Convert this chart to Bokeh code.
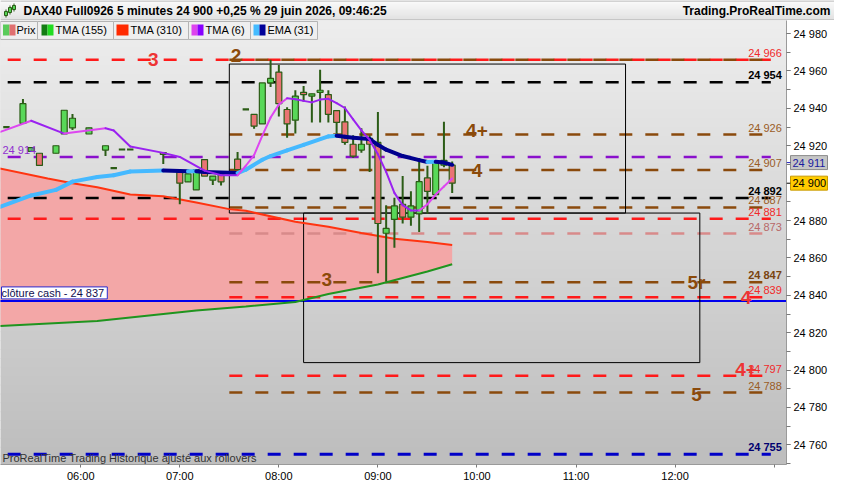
import numpy as np
import pandas as pd
from bokeh.plotting import figure
from bokeh.layouts import column, row
from bokeh.models import (Range1d, FixedTicker, SingleIntervalTicker, CustomJSTickFormatter,
                          DatetimeTickFormatter, Label, ColumnDataSource)
from bokeh.embed import file_html
from bokeh.resources import INLINE
from bokeh.core.properties import value

DAY = "2026-06-29 "
FONT = "Liberation Sans"

# ------------------------------------------------------------------ data
title_text = "DAX40 Full0926 5 minutes 24 900 +0,25 % 29 juin 2026, 09:46:25"
site_text = "Trading.ProRealTime.com"
footer_text = "ProRealTime Trading  Historique ajusté aux rollovers"
legend_names = ["Prix", "TMA (155)", "TMA (310)", "TMA (6)", "EMA (31)"]
hour_ticks = ["06:00", "07:00", "08:00", "09:00", "10:00", "11:00", "12:00", "13:00"]
hour_labels = ["06:00", "07:00", "08:00", "09:00", "10:00", "11:00", "12:00", ""]

candle_time = ["05:15", "05:25", "05:30", "05:35", "05:45", "05:50", "05:55", "06:05", "06:15", "06:20",
               "06:25", "06:30", "06:50", "07:00", "07:05", "07:10", "07:15", "07:20", "07:25", "07:35",
               "07:40", "07:45", "07:50", "07:55", "08:00", "08:05", "08:10", "08:15", "08:20", "08:25",
               "08:30", "08:35", "08:40", "08:45", "08:50", "08:55", "09:00", "09:05", "09:10", "09:15",
               "09:20", "09:25", "09:30", "09:35", "09:40", "09:45"]
candle_open = [24930, 24932, 24917, 24916, 24916, 24926.3, 24929.6, 24926.3, 24917.7, 24908,
               24918, 24918, 24916.4, 24906, 24900.7, 24896.4, 24912.6, 24901.6, 24904.5, 24912.8,
               24939.5, 24936.8, 24931.7, 24953.6, 24959.4, 24939.4, 24933.7, 24948.6, 24946.6, 24948.6,
               24947.4, 24938.8, 24932.8, 24920.8, 24917.7, 24923.9, 24921.8, 24873.2, 24880.6, 24888.7,
               24881.8, 24883.6, 24902.8, 24893.9, 24909.6, 24909.6]
candle_high = [24930, 24945, 24919, 24916, 24920, 24939, 24937, 24929.6, 24920, 24908,
               24918, 24918, 24916.4, 24906, 24905, 24907.3, 24912.6, 24903.8, 24904.5, 24916.7,
               24939.5, 24936.8, 24953.6, 24966, 24963.2, 24940.6, 24949.7, 24951.9, 24947.8, 24960.6,
               24949.7, 24938.8, 24941, 24925.6, 24929.4, 24925.6, 24938, 24888.2, 24892.2, 24903.8,
               24895.6, 24911.6, 24909.3, 24911.9, 24932.9, 24911.6]
candle_low = [24930, 24932, 24917, 24909.5, 24916, 24926.3, 24928.4, 24926.3, 24914.5, 24908,
              24918, 24918, 24910.2, 24888.7, 24900.7, 24896.4, 24903.8, 24899, 24898.7, 24907.3,
              24939.5, 24929.1, 24931.7, 24951.4, 24935.6, 24924.3, 24926.5, 24943.6, 24932.5, 24932.5,
              24932.5, 24926, 24920.5, 24913.6, 24916.2, 24905.9, 24851.8, 24847.5, 24865.5, 24878.4,
              24877.2, 24873.8, 24883.6, 24893.9, 24908.5, 24894.7]
candle_close = [24930, 24942.5, 24919, 24909.5, 24920, 24939, 24934.7, 24929.6, 24920, 24908,
                24918, 24918, 24915.4, 24900, 24905, 24907.3, 24903.8, 24903.8, 24900.7, 24907.3,
                24939.5, 24930.5, 24953.6, 24956, 24942.5, 24931.7, 24946.6, 24947.4, 24947.8, 24949.7,
                24936.8, 24932.5, 24921.8, 24914.4, 24920.8, 24920.8, 24878.4, 24875.8, 24887.8, 24881.8,
                24887.8, 24900.8, 24895.6, 24911.9, 24912.2, 24900]

tma6_time = ["05:10", "05:30", "05:50", "06:15", "06:20", "06:30", "06:50", "07:00", "07:15", "07:25",
             "07:35", "07:40", "07:45", "07:50", "07:55", "08:00", "08:05", "08:10", "08:15", "08:20",
             "08:25", "08:30", "08:35", "08:40", "08:45", "08:50", "08:55", "09:00", "09:05", "09:10",
             "09:15", "09:20", "09:25", "09:30", "09:35", "09:40", "09:45"]
tma6_value = [24927, 24933.4, 24926.5, 24929.4, 24928.2, 24919.6, 24916.2, 24914, 24906.7, 24904.2,
              24904.2, 24909.3, 24915, 24925.4, 24935.1, 24942, 24945.4, 24944.9, 24944, 24943.2,
              24944.7, 24945.1, 24942.8, 24940.2, 24934.1, 24928.2, 24923.1, 24915.4, 24906, 24894.8,
              24888.2, 24885.4, 24885.4, 24888.7, 24893.9, 24898.2, 24902.5]

ema_time = ["05:10", "05:30", "05:45", "05:55", "06:10", "06:20", "06:30", "06:50", "07:00", "07:05",
            "07:10", "07:15", "07:35", "07:40", "07:50", "07:55", "08:05", "08:15", "08:30", "08:35",
            "08:40", "08:45", "08:55", "09:00", "09:05", "09:15", "09:25", "09:30", "09:35", "09:40", "09:45"]
ema_value = [24887, 24893.4, 24896.4, 24900.8, 24903.3, 24904.2, 24906.2, 24906.7, 24906.5, 24906.3,
             24906.4, 24905.9, 24905.4, 24907.2, 24912.5, 24914.5, 24917.5, 24920.5, 24925, 24925.3,
             24924.8, 24924.3, 24923.6, 24920.5, 24917.9, 24914.5, 24912.3, 24911.3, 24911.4, 24911.0, 24909.8]

tma310_time = ["05:10", "05:40", "05:55", "06:10", "06:30", "06:50", "07:10", "07:30", "07:40", "08:10",
               "08:30", "08:50", "09:10", "09:30", "09:45"]
tma310_value = [24908, 24902.5, 24899.9, 24897.8, 24893.9, 24893, 24889.6, 24886.1, 24885.2, 24879.3,
                24876.7, 24873.3, 24870.2, 24868.5, 24866.9]

tma155_time = ["05:10", "06:10", "07:10", "07:40", "08:10", "08:30", "09:00", "09:30", "09:45"]
tma155_value = [24823.5, 24826.3, 24831.9, 24834, 24836.4, 24840.7, 24845.8, 24852.7, 24856.6]

cash_close = 24837
tag_value = [24911, 24900]          # EMA(31) last value, last price

level_value = [24966, 24966, 24954, 24926, 24914, 24907, 24892, 24887, 24881, 24873, 24847, 24839, 24797, 24788, 24755]
level_kind = ["red", "brown", "black", "brown", "purple", "brown", "black", "brown", "red", "pale", "brown",
              "red", "red", "brown", "navy"]
level_start = ["05:00", "07:30", "05:00", "07:30", "05:00", "07:30", "05:00", "07:30", "05:00", "07:30",
               "07:30", "07:30", "07:30", "07:30", "05:00"]
level_end = "12:58"

right_label_value = [24966, 24954, 24926, 24907, 24892, 24887, 24881, 24873, 24847, 24839, 24797, 24788, 24755]
right_label_kind = ["red", "black", "tan", "tan", "black", "tan", "red", "pale", "brown", "red", "red", "tan", "navy"]
right_label_bold = [False, True, False, False, True, False, False, False, True, False, False, False, True]

zone_text = ["3", "2", "4+", "4", "3", "5r", "4", "4+", "5"]
zone_time = ["06:44", "07:34", "10:00", "10:00", "08:29", "12:13", "12:43", "12:43", "12:13"]
zone_level = [24966, 24966, 24926, 24907, 24847, 24847, 24839, 24797, 24788]
zone_kind = ["red", "brown", "brown", "brown", "brown", "brown", "red", "red", "brown"]

box_left = ["07:30", "08:15"]
box_right = ["11:30", "12:15"]
box_top = [24963.7, 24884]
box_bottom = [24884, 24804]

# ------------------------------------------------------------------ style
COL = {"red": "#ff1a1a", "brown": "#8a4a0c", "black": "#000000", "purple": "#8a10cc",
       "pale": "#d88a8a", "navy": "#0000c8", "tan": "#9a5a22"}
LBL = {"red": "#f02a2a", "brown": "#7a4410", "black": "#000000", "pale": "#b86868",
       "navy": "#000070", "tan": "#9a5c26"}
ZONE = {"red": "#ee3434", "brown": "#8b4a0a"}
zone_dy = [0, -4, -4, 0, -3, 0, 0, -6, 2]
tag_fill = ["#c6c6c6", "#ffcc00"]
tag_line = ["#8a8a8a", "#c89a00"]
tag_text_color = ["#1a1aa0", "#000000"]
tag_tick = ["#2020c0", "#333333"]

W, HEAD_H, MAIN_H = 834, 20, 464
AX_R, AX_B = 48, 19
FRAME_W, FRAME_H = W - AX_R, MAIN_H - AX_B


def to_ms(s):
    return pd.Timestamp(DAY + s).value / 1e6


def fmt(v):
    s = str(int(round(v)))
    return s[:-3] + " " + s[-3:]


x_start, x_end = to_ms("05:11:24"), to_ms("13:07:30")
y_start, y_end = 24749.5, 24987.0
ms_per_px = (x_end - x_start) / FRAME_W
units_per_px = (y_end - y_start) / FRAME_H

# ------------------------------------------------------------------ header figure
h = figure(width=W, height=HEAD_H, x_range=Range1d(0, W), y_range=Range1d(HEAD_H, 0),
           output_backend="svg", toolbar_location=None, min_border=0,
           x_axis_location=None, y_axis_location=None)
h.grid.visible = False
h.outline_line_color = None
h.background_fill_color = "#eeeeee"
h.border_fill_color = "#eeeeee"
nb = 10
he = np.linspace(0, HEAD_H, nb + 1)
hg = np.linspace(250, 226, nb).astype(int)
h.quad(left=0, right=W, top=he[:-1], bottom=he[1:] + 0.5,
       fill_color=[f"#{g:02x}{g:02x}{g:02x}" for g in hg], line_color=None)
h.segment(x0=[0, 0], y0=[0.5, HEAD_H - 0.5], x1=[W, W], y1=[0.5, HEAD_H - 0.5], line_color="#aaaaaa", line_width=1)
h.segment(x0=[5.5, 9.5, 13.5], y0=[9, 5, 3], x1=[5.5, 9.5, 13.5], y1=[17, 14, 11], line_color="#2b5c16", line_width=1)
h.quad(left=[4, 8, 12], right=[7, 11, 15], top=[11, 7, 5], bottom=[15, 12, 9],
       fill_color="#55d455", line_color="#2b5c16", line_width=1)
h.text(x=[23], y=[10.5], text=[title_text], text_font=value(FONT), text_font_size="12px",
       text_font_style="bold", text_baseline="middle", text_color="#000000")
h.text(x=[W - 4], y=[10.5], text=[site_text], text_font=value(FONT), text_font_size="12px",
       text_font_style="bold", text_baseline="middle", text_align="right", text_color="#000000")

# ------------------------------------------------------------------ main figure
p = figure(width=W, height=MAIN_H, x_axis_type="datetime", y_axis_location="right",
           x_range=Range1d(x_start, x_end), y_range=Range1d(y_start, y_end),
           output_backend="svg", toolbar_location=None,
           min_border_left=0, min_border_top=0, min_border_right=AX_R, min_border_bottom=AX_B)
p.extra_x_ranges = {"px": Range1d(0, FRAME_W)}
p.extra_y_ranges = {"px": Range1d(FRAME_H, 0)}
p.grid.visible = False
p.outline_line_color = None
p.background_fill_color = "#d6d6d6"
p.border_fill_color = "white"

# background gradient
nb = 50
be = np.linspace(0, FRAME_H, nb + 1)
bg = np.linspace(237, 190, nb).astype(int)
p.quad(left=0, right=FRAME_W, top=be[:-1], bottom=be[1:] + 1,
       fill_color=[f"#{g:02x}{g:02x}{g:02x}" for g in bg], line_color=None,
       x_range_name="px", y_range_name="px")

# band between TMA(310) and TMA(155)
band_x = [to_ms(s) for s in tma310_time] + [to_ms(s) for s in tma155_time[::-1]]
band_y = list(tma310_value) + list(tma155_value[::-1])
p.patch(band_x, band_y, fill_color="#f3a7a7", line_color=None)

# horizontal levels
lv = ColumnDataSource(dict(x0=[to_ms(s) for s in level_start], x1=[to_ms(level_end)] * len(level_value),
                           y=level_value, color=[COL[k] for k in level_kind],
                           w=[3 if k == "navy" else 2.5 for k in level_kind]))
p.segment(x0="x0", y0="y", x1="x1", y1="y", source=lv, line_color="color", line_width="w", line_dash="13 13")

# cash close line
p.segment(x0=[to_ms("05:00")], y0=[cash_close], x1=[to_ms("13:30")], y1=[cash_close],
          line_color="#0000ee", line_width=2)

# boxes
p.quad(left=[to_ms(s) for s in box_left], right=[to_ms(s) for s in box_right],
       top=box_top, bottom=box_bottom, fill_color=None, line_color="#000000", line_width=1)

# TMA 310 / 155
p.line([to_ms(s) for s in tma310_time], tma310_value, line_color="#ff3410", line_width=2)
p.line([to_ms(s) for s in tma155_time], tma155_value, line_color="#1f951f", line_width=2)

# candles
cx = [to_ms(s) for s in candle_time]
o, hi, lo, c = map(np.array, (candle_open, candle_high, candle_low, candle_close))
p.segment(x0=cx, y0=lo, x1=cx, y1=hi, line_color="#2b5c16", line_width=2)
body = np.abs(c - o) > 0
bx = [x for x, b in zip(cx, body) if b]
p.vbar(x=bx, width=216000, top=np.maximum(o, c)[body], bottom=np.minimum(o, c)[body],
       fill_color=["#58d858" if cc >= oo else "#ea7474" for oo, cc in zip(o[body], c[body])],
       line_color="#2b5c16", line_width=1.2)
dx = np.array([x for x, b in zip(cx, body) if not b])
p.segment(x0=dx - 3.2 * ms_per_px, y0=o[~body], x1=dx + 3.2 * ms_per_px, y1=o[~body],
          line_color="#2b5c16", line_width=2.2)


def colored(times, vals, up, down, thr):
    xs = [to_ms(s) for s in times]
    cols = [up if b - a > thr else down for a, b in zip(vals[:-1], vals[1:])]
    return dict(x0=xs[:-1], x1=xs[1:], y0=vals[:-1], y1=vals[1:], color=cols)


p.segment(x0="x0", y0="y0", x1="x1", y1="y1", line_color="color", line_width=4, line_cap="round",
          source=ColumnDataSource(colored(ema_time, ema_value, "#45b9ff", "#00008e", 0)))
p.segment(x0="x0", y0="y0", x1="x1", y1="y1", line_color="color", line_width=2, line_cap="round",
          source=ColumnDataSource(colored(tma6_time, tma6_value, "#dd46f0", "#9a22f0", 2)))

# right-side level labels
rl = ColumnDataSource(dict(x=[to_ms("13:04:40")] * len(right_label_value), y=right_label_value,
                           text=[fmt(v) for v in right_label_value],
                           color=[LBL[k] for k in right_label_kind],
                           style=["bold" if b else "normal" for b in right_label_bold]))
p.text(x="x", y="y", text="text", source=rl, text_color="color", text_font_style="style",
       text_font=value(FONT), text_font_size="11px", text_align="right", text_baseline="bottom", y_offset=-1)

# left label for purple level
p.text(x=[x_start + 2 * ms_per_px], y=[level_value[4]], text=[fmt(level_value[4])], text_color="#9030d0",
       text_font=value(FONT), text_font_size="11px", text_baseline="bottom", y_offset=-1)

# zone labels
zl = ColumnDataSource(dict(x=[to_ms(s) for s in zone_time], y=zone_level, text=zone_text,
                           color=[ZONE[k] for k in zone_kind], dy=zone_dy))
p.text(x="x", y="y", text="text", source=zl, text_color="color", y_offset="dy",
       text_font=value(FONT), text_font_size="19px", text_font_style="bold",
       text_align="center", text_baseline="middle")

# cash close label
p.add_layout(Label(x=x_start, y=cash_close, text="clôture cash -  " + fmt(cash_close),
                   text_font=FONT, text_font_size="11px", text_color="#101050", text_baseline="bottom",
                   x_offset=1, y_offset=2, background_fill_color="white", border_line_color="#2a2ad0"))

# legend row (frame pixel space)
lg_left = [0, 37, 113, 188, 250]
lg_right = [37, 113, 188, 250, 317]
p.quad(left=lg_left, right=lg_right, top=1, bottom=19, fill_color="#efefef", line_color="#b4b4b4",
       line_width=1, x_range_name="px", y_range_name="px")
sw_l = [2.5, 9, 41, 47, 116, 191, 197, 253, 259]
sw_r = [9, 15, 47, 53, 128, 197, 203, 259, 265]
sw_c = ["#5acb5a", "#e07070", "#137d13", "#22dd22", "#ff2a00", "#dd44ee", "#8800ff", "#44bbff", "#000099"]
p.quad(left=sw_l, right=sw_r, top=4, bottom=15, fill_color=sw_c, line_color=None,
       x_range_name="px", y_range_name="px")
p.text(x=[16, 55, 130, 205, 267], y=[10] * 5, text=legend_names, text_font=value(FONT),
       text_font_size="11px", text_baseline="middle", text_color="#000000",
       x_range_name="px", y_range_name="px")

# footer text
p.text(x=[2], y=[FRAME_H - 7], text=[footer_text], text_font=value(FONT), text_font_size="11px",
       text_baseline="middle", text_color="#333333", x_range_name="px", y_range_name="px")

# axes
yax = p.yaxis[0]
yax.ticker = SingleIntervalTicker(interval=20, num_minor_ticks=2)
yax.formatter = CustomJSTickFormatter(
    code="const s = Math.round(tick).toString(); return s.slice(0, -3) + ' ' + s.slice(-3);")
yax.major_label_overrides = {tag_value[1]: ""}   # hidden under the last-price tag
yax.major_label_text_font = FONT
yax.major_label_text_font_size = "11px"
yax.major_label_text_color = "#000000"
yax.axis_line_color = "#9a9a9a"
yax.major_tick_line_color = "#7a7a7a"
yax.minor_tick_line_color = "#7a7a7a"
yax.major_tick_in = 0
yax.major_tick_out = 4
yax.minor_tick_in = 0
yax.minor_tick_out = 4
yax.major_label_standoff = 3

xax = p.xaxis[0]
xax.ticker = FixedTicker(ticks=[to_ms(s) for s in hour_ticks], minor_ticks=[])
xax.formatter = DatetimeTickFormatter(hours="%H:%M", hourmin="%H:%M", minutes="%H:%M", minsec="%H:%M")
xax.major_label_overrides = {int(to_ms(s)): lab for s, lab in zip(hour_ticks, hour_labels)}
xax.major_label_text_font = FONT
xax.major_label_text_font_size = "11px"
xax.major_label_text_color = "#000000"
xax.axis_line_color = "#9a9a9a"
xax.major_tick_line_color = "#7a7a7a"
xax.major_tick_in = 0
xax.major_tick_out = 3
xax.major_label_standoff = 2

# ------------------------------------------------------------------ value tags overlaying the price axis
tg = figure(width=AX_R, height=MAIN_H, x_range=Range1d(0, AX_R), y_range=p.y_range,
            output_backend="svg", toolbar_location=None, min_border=0, min_border_bottom=AX_B,
            x_axis_location=None, y_axis_location=None, margin=(0, 0, 0, -AX_R))
tg.grid.visible = False
tg.outline_line_color = None
tg.background_fill_alpha = 0
tg.border_fill_alpha = 0
half = 7 * units_per_px
tg.quad(left=4, right=41, top=[v + half for v in tag_value], bottom=[v - half for v in tag_value],
        fill_color=tag_fill, line_color=tag_line, line_width=1)
tg.segment(x0=0, y0=tag_value, x1=4, y1=tag_value, line_color=tag_tick, line_width=1)
tg.text(x=6, y=tag_value, text=[fmt(v) for v in tag_value], text_color=tag_text_color,
        text_font=value(FONT), text_font_size="11px", text_baseline="middle")

layout = column(h, row(p, tg, spacing=0), spacing=0)
open("out.html", "w").write(file_html(layout, INLINE))
